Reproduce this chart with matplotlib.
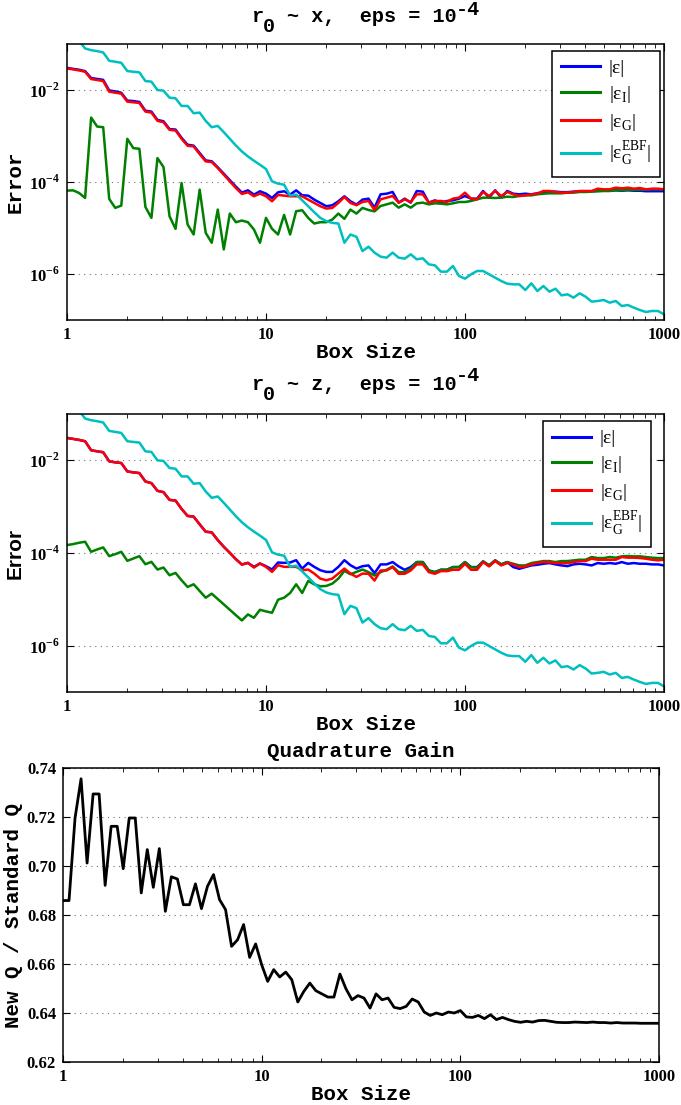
import numpy as np
import matplotlib
matplotlib.use("Agg")
import matplotlib.pyplot as plt
from matplotlib.ticker import LogLocator, NullLocator, NullFormatter

# ---------------- data ----------------
# box sizes: 100 log-spaced samples between 1 and 1000
box_size = np.logspace(0, 3, 100)

# Panel 1 (r0 ~ x): log10 of the errors
x_eps = [
    -1.52, -1.54, -1.56, -1.59, -1.74, -1.76, -1.78, -2.01, -2.03, -2.06,
    -2.23, -2.24, -2.26, -2.45, -2.47, -2.65, -2.68, -2.85, -2.86, -3.04,
    -3.19, -3.21, -3.37, -3.53, -3.55, -3.68, -3.82, -3.96, -4.10, -4.23,
    -4.181, -4.274, -4.202, -4.253, -4.347, -4.224, -4.202, -4.274, -4.181, -4.289,
    -4.296, -4.383, -4.455, -4.527, -4.505, -4.419, -4.310, -4.419, -4.491, -4.383,
    -4.362, -4.558, -4.268, -4.254, -4.217, -4.449, -4.362, -4.449, -4.196, -4.210,
    -4.449, -4.399, -4.449, -4.413, -4.399, -4.362, -4.304, -4.362, -4.362, -4.196,
    -4.341, -4.181, -4.341, -4.196, -4.254, -4.268, -4.254, -4.268, -4.246, -4.217,
    -4.21, -4.21, -4.22, -4.22, -4.21, -4.20, -4.20, -4.20, -4.19, -4.19,
    -4.19, -4.18, -4.19, -4.18, -4.19, -4.19, -4.20, -4.20, -4.20, -4.20]
x_eps_i = [
    -4.188, -4.181, -4.238, -4.347, -2.599, -2.794, -2.809, -4.368, -4.563, -4.513,
    -3.061, -3.264, -3.278, -4.542, -4.780, -3.480, -3.675, -4.744, -5.018, -4.022,
    -4.924, -5.141, -4.166, -5.105, -5.321, -4.599, -5.466, -4.686, -4.874, -4.838,
    -4.874, -5.032, -5.321, -4.780, -5.018, -5.141, -4.715, -5.141, -4.635, -4.614,
    -4.780, -4.903, -4.874, -4.874, -4.816, -4.686, -4.801, -4.599, -4.686, -4.563,
    -4.609, -4.638, -4.522, -4.486, -4.449, -4.558, -4.486, -4.558, -4.464, -4.449,
    -4.486, -4.464, -4.471, -4.486, -4.464, -4.435, -4.435, -4.413, -4.377, -4.341,
    -4.341, -4.348, -4.341, -4.319, -4.326, -4.304, -4.290, -4.290, -4.268, -4.254,
    -4.246, -4.246, -4.246, -4.232, -4.232, -4.217, -4.217, -4.210, -4.203, -4.196,
    -4.196, -4.181, -4.181, -4.174, -4.174, -4.167, -4.167, -4.159, -4.159, -4.159]
x_eps_g = [
    -1.531, -1.552, -1.574, -1.603, -1.762, -1.783, -1.805, -2.036, -2.058, -2.079,
    -2.253, -2.267, -2.282, -2.469, -2.491, -2.671, -2.700, -2.866, -2.881, -3.061,
    -3.213, -3.227, -3.394, -3.552, -3.567, -3.697, -3.841, -3.986, -4.130, -4.260,
    -4.224, -4.310, -4.253, -4.310, -4.419, -4.282, -4.296, -4.310, -4.310, -4.310,
    -4.383, -4.455, -4.527, -4.578, -4.563, -4.455, -4.325, -4.455, -4.505, -4.433,
    -4.413, -4.609, -4.377, -4.341, -4.304, -4.449, -4.377, -4.435, -4.268, -4.268,
    -4.449, -4.413, -4.413, -4.435, -4.362, -4.341, -4.232, -4.362, -4.377, -4.217,
    -4.304, -4.196, -4.304, -4.217, -4.268, -4.304, -4.290, -4.268, -4.254, -4.196,
    -4.196, -4.217, -4.232, -4.232, -4.217, -4.196, -4.196, -4.196, -4.145, -4.159,
    -4.159, -4.123, -4.138, -4.123, -4.145, -4.130, -4.159, -4.145, -4.145, -4.159]
x_eps_ebf = [
    -0.87, -0.90, -0.93, -1.097, -1.134, -1.155, -1.184, -1.365, -1.386, -1.408,
    -1.588, -1.603, -1.617, -1.805, -1.819, -2.000, -2.014, -2.166, -2.181, -2.347,
    -2.347, -2.505, -2.491, -2.671, -2.809, -2.780, -2.917, -3.061, -3.206, -3.336,
    -3.444, -3.538, -3.625, -3.718, -3.986, -4.036, -4.058, -4.296, -4.274, -4.397,
    -4.527, -4.657, -4.780, -4.852, -4.888, -4.903, -5.321, -5.141, -5.191, -5.502,
    -5.406, -5.536, -5.623, -5.645, -5.536, -5.645, -5.667, -5.572, -5.681, -5.659,
    -5.790, -5.812, -5.949, -5.949, -5.826, -6.043, -6.101, -6.007, -5.935, -5.935,
    -6.007, -6.080, -6.152, -6.210, -6.225, -6.225, -6.348, -6.203, -6.370, -6.261,
    -6.384, -6.319, -6.464, -6.442, -6.514, -6.420, -6.493, -6.601, -6.587, -6.565,
    -6.623, -6.587, -6.696, -6.674, -6.732, -6.783, -6.826, -6.804, -6.804, -6.877]

# Panel 2 (r0 ~ z): log10 of the errors
z_eps = [
    -1.516, -1.537, -1.559, -1.588, -1.783, -1.805, -1.826, -2.022, -2.043, -2.058,
    -2.239, -2.260, -2.275, -2.456, -2.492, -2.658, -2.687, -2.853, -2.868, -3.048,
    -3.200, -3.215, -3.381, -3.540, -3.555, -3.721, -3.866, -3.996, -4.133, -4.249,
    -4.213, -4.299, -4.227, -4.285, -4.357, -4.205, -4.213, -4.205, -4.155, -4.336,
    -4.213, -4.299, -4.372, -4.408, -4.408, -4.299, -4.155, -4.263, -4.336, -4.285,
    -4.268, -4.435, -4.246, -4.246, -4.196, -4.290, -4.362, -4.304, -4.196, -4.196,
    -4.377, -4.413, -4.362, -4.362, -4.304, -4.304, -4.196, -4.304, -4.304, -4.181,
    -4.268, -4.159, -4.246, -4.196, -4.304, -4.341, -4.304, -4.268, -4.254, -4.232,
    -4.217, -4.246, -4.268, -4.283, -4.246, -4.232, -4.246, -4.268, -4.217, -4.232,
    -4.217, -4.232, -4.196, -4.232, -4.217, -4.232, -4.232, -4.246, -4.246, -4.268]
z_eps_i = [
    -3.829, -3.808, -3.779, -3.757, -3.974, -3.923, -3.880, -4.068, -4.025, -3.974,
    -4.169, -4.119, -4.068, -4.242, -4.191, -4.357, -4.314, -4.480, -4.430, -4.589,
    -4.733, -4.675, -4.820, -4.965, -4.878, -4.993, -5.109, -5.225, -5.341, -5.456,
    -5.326, -5.398, -5.225, -5.261, -5.290, -5.008, -4.965, -4.863, -4.675, -4.863,
    -4.603, -4.675, -4.719, -4.711, -4.661, -4.552, -4.386, -4.458, -4.408, -4.357,
    -4.413, -4.486, -4.413, -4.362, -4.290, -4.413, -4.413, -4.341, -4.196, -4.196,
    -4.377, -4.413, -4.362, -4.362, -4.304, -4.304, -4.196, -4.304, -4.319, -4.181,
    -4.268, -4.159, -4.246, -4.196, -4.232, -4.268, -4.268, -4.217, -4.196, -4.174,
    -4.174, -4.196, -4.174, -4.174, -4.159, -4.145, -4.145, -4.087, -4.109, -4.109,
    -4.087, -4.101, -4.072, -4.065, -4.072, -4.072, -4.087, -4.101, -4.109, -4.109]
z_eps_g = [
    -1.516, -1.537, -1.559, -1.588, -1.783, -1.805, -1.826, -2.022, -2.043, -2.058,
    -2.239, -2.260, -2.275, -2.456, -2.492, -2.658, -2.687, -2.853, -2.868, -3.048,
    -3.200, -3.215, -3.381, -3.540, -3.555, -3.721, -3.866, -3.996, -4.133, -4.249,
    -4.213, -4.314, -4.227, -4.299, -4.408, -4.263, -4.299, -4.299, -4.299, -4.372,
    -4.357, -4.444, -4.552, -4.589, -4.552, -4.444, -4.336, -4.444, -4.516, -4.444,
    -4.449, -4.594, -4.377, -4.377, -4.304, -4.449, -4.449, -4.377, -4.246, -4.246,
    -4.413, -4.449, -4.391, -4.391, -4.362, -4.362, -4.232, -4.362, -4.362, -4.196,
    -4.290, -4.174, -4.268, -4.217, -4.246, -4.304, -4.290, -4.246, -4.217, -4.196,
    -4.196, -4.217, -4.217, -4.217, -4.196, -4.174, -4.174, -4.123, -4.145, -4.145,
    -4.145, -4.145, -4.087, -4.101, -4.101, -4.109, -4.123, -4.145, -4.159, -4.145]
z_eps_ebf = [
    -0.87, -0.90, -0.93, -1.097, -1.134, -1.155, -1.184, -1.365, -1.386, -1.408,
    -1.588, -1.603, -1.617, -1.805, -1.819, -2.000, -2.014, -2.166, -2.181, -2.347,
    -2.347, -2.505, -2.491, -2.671, -2.809, -2.780, -2.917, -3.061, -3.206, -3.336,
    -3.444, -3.538, -3.625, -3.718, -3.986, -4.036, -4.058, -4.296, -4.274, -4.397,
    -4.527, -4.657, -4.780, -4.852, -4.888, -4.903, -5.321, -5.141, -5.191, -5.502,
    -5.406, -5.536, -5.623, -5.645, -5.536, -5.645, -5.667, -5.572, -5.681, -5.659,
    -5.790, -5.812, -5.949, -5.949, -5.826, -6.043, -6.101, -6.007, -5.935, -5.935,
    -6.007, -6.080, -6.152, -6.210, -6.225, -6.225, -6.348, -6.203, -6.370, -6.261,
    -6.384, -6.319, -6.464, -6.442, -6.514, -6.420, -6.493, -6.601, -6.587, -6.565,
    -6.623, -6.587, -6.696, -6.674, -6.732, -6.783, -6.826, -6.804, -6.804, -6.877]

# Panel 3: quadrature gain ratio
gain = [
    0.6859, 0.6859, 0.7196, 0.7356, 0.7012, 0.7294, 0.7294, 0.6921, 0.7162, 0.7162,
    0.6989, 0.7196, 0.7196, 0.6890, 0.7067, 0.6913, 0.7071, 0.6815, 0.6956, 0.6947,
    0.6842, 0.6842, 0.6927, 0.6826, 0.6917, 0.6965, 0.6863, 0.6822, 0.6672, 0.6699,
    0.6761, 0.6627, 0.6682, 0.6597, 0.6529, 0.6577, 0.6547, 0.6567, 0.6536, 0.6445,
    0.6488, 0.6522, 0.6491, 0.6478, 0.6465, 0.6465, 0.6559, 0.6499, 0.6454, 0.6471,
    0.6461, 0.6420, 0.6478, 0.6454, 0.6461, 0.6423, 0.6418, 0.6427, 0.6457, 0.6445,
    0.6404, 0.6390, 0.6400, 0.6393, 0.6404, 0.6400, 0.6410, 0.6384, 0.6382, 0.6390,
    0.6377, 0.6393, 0.6373, 0.6382, 0.6373, 0.6366, 0.6362, 0.6366, 0.6363, 0.6369,
    0.6370, 0.6366, 0.6362, 0.6361, 0.6361, 0.6363, 0.6362, 0.6361, 0.6363, 0.6361,
    0.6361, 0.6359, 0.6361, 0.6359, 0.6359, 0.6359, 0.6358, 0.6358, 0.6358, 0.6358]

series_labels = ["|ε|", "|ε$_{\\mathregular{I}}$|", "|ε$_{\\mathregular{G}}$|",
                 "|ε$_{\\mathregular{G}}^{\\mathregular{EBF}}$|"]
series_colors = ["#0000ff", "#008000", "#ff0000", "#00bfbf"]
err_yticks = [1e-6, 1e-4, 1e-2]
err_yticklabels = ["10$^{\\mathregular{-6}}$", "10$^{\\mathregular{-4}}$", "10$^{\\mathregular{-2}}$"]
x_ticks = [1, 10, 100, 1000]
x_ticklabels = ["1", "10", "100", "1000"]
gain_yticks = [0.62, 0.64, 0.66, 0.68, 0.70, 0.72, 0.74]
gain_yticklabels = ["0.62", "0.64", "0.66", "0.68", "0.70", "0.72", "0.74"]

# ---------------- style ----------------
MONO = "Liberation Mono"
SERIF = "Liberation Serif"
tick_font = dict(family=SERIF, weight="bold", size=12)
label_font = dict(family=MONO, weight="bold", size=15)
TITLE_SIZE = 14.5

fig = plt.figure(figsize=(6.81, 11.05), dpi=100)
W, H = 681.0, 1105.0


def ax_rect(l, r, t, b):
    return [l / W, 1 - b / H, (r - l) / W, (b - t) / H]


def style_axes(ax):
    ax.set_xscale("log")
    ax.set_xlim(1, 1000)
    ax.xaxis.set_major_locator(plt.FixedLocator(x_ticks))
    ax.set_xticklabels(x_ticklabels, fontdict=tick_font)
    ax.xaxis.set_minor_locator(LogLocator(base=10, subs=np.arange(2, 10)))
    ax.xaxis.set_minor_formatter(NullFormatter())
    ax.tick_params(which="both", direction="in", top=True, right=True)
    ax.tick_params(which="major", length=5, width=0.8, pad=5)
    ax.tick_params(which="minor", length=3, width=0.6)
    for s in ax.spines.values():
        s.set_linewidth(1.1)
    ax.yaxis.grid(True, linestyle=(0, (1, 4)), color="0.45", linewidth=0.8)
    ax.xaxis.grid(False)


def mono_title(center_px, base_px, letter, sub, middle, sup, sub_dy, sup_dy):
    """Courier-style title with full-size shifted subscript / superscript."""
    adv = 0.6 * TITLE_SIZE * 100 / 72.0
    n = len(letter) + len(sub) + 1 + len(middle) + len(sup)
    x0 = center_px - n * adv / 2.0
    kw = dict(family=MONO, weight="bold", size=TITLE_SIZE, ha="left", va="baseline")
    fig.text(x0 / W, 1 - base_px / H, letter, **kw)
    fig.text((x0 + adv) / W, 1 - (base_px + sub_dy) / H, sub, **kw)
    fig.text((x0 + 3 * adv) / W, 1 - base_px / H, middle, **kw)
    fig.text((x0 + (n - len(sup)) * adv) / W, 1 - (base_px - sup_dy) / H, sup, **kw)


def error_panel(rect, data, ylabel_font, legend_anchor):
    ax = fig.add_axes(rect)
    for vals, lab, col in zip(data, series_labels, series_colors):
        ax.plot(box_size, np.power(10.0, vals), color=col, lw=1.8, label=lab)
    style_axes(ax)
    ax.set_yscale("log")
    ax.set_ylim(1e-7, 1e-1)
    ax.yaxis.set_major_locator(plt.FixedLocator(err_yticks))
    ax.set_yticklabels(err_yticklabels, fontdict=tick_font)
    ax.yaxis.set_minor_locator(NullLocator())
    ax.set_xlabel("Box Size", fontdict=label_font, labelpad=0)
    ax.set_ylabel("Error", fontdict=ylabel_font, labelpad=3)
    leg = ax.legend(loc="upper right", bbox_to_anchor=legend_anchor,
                    prop=dict(family=SERIF, size=14), handlelength=2.0,
                    handletextpad=0.45, labelspacing=0.35, borderpad=0.45,
                    fancybox=False, framealpha=1, edgecolor="black",
                    borderaxespad=0)
    leg.get_frame().set_linewidth(1.1)
    for line in leg.get_lines():
        line.set_linewidth(2.2)
    return ax


error_panel(ax_rect(67, 664, 44, 320), [x_eps, x_eps_i, x_eps_g, x_eps_ebf],
            label_font, (0.993, 0.975))
mono_title(365.5, 22, "r", "0", "~ x,  eps = 10", "-4", 10, 7)

error_panel(ax_rect(67, 664, 414, 692), [z_eps, z_eps_i, z_eps_g, z_eps_ebf],
            dict(family="Liberation Sans", weight="bold", size=15), (0.978, 0.975))
mono_title(365.5, 390, "r", "0", "~ z,  eps = 10", "-4", 10, 9)

ax3 = fig.add_axes(ax_rect(63, 659, 768, 1062))
ax3.plot(box_size, gain, color="black", lw=2.0)
style_axes(ax3)
ax3.set_ylim(0.62, 0.74)
ax3.yaxis.set_major_locator(plt.FixedLocator(gain_yticks))
ax3.set_yticklabels(gain_yticklabels, fontdict=tick_font)
ax3.yaxis.set_minor_locator(NullLocator())
ax3.set_xlabel("Box Size", fontdict=label_font, labelpad=0)
ax3.set_ylabel("New Q / Standard Q", fontdict=label_font, labelpad=3)
ax3.set_title("Quadrature Gain", fontdict=dict(family=MONO, weight="bold", size=15), pad=8)

fig.savefig("out.png", dpi=100)
